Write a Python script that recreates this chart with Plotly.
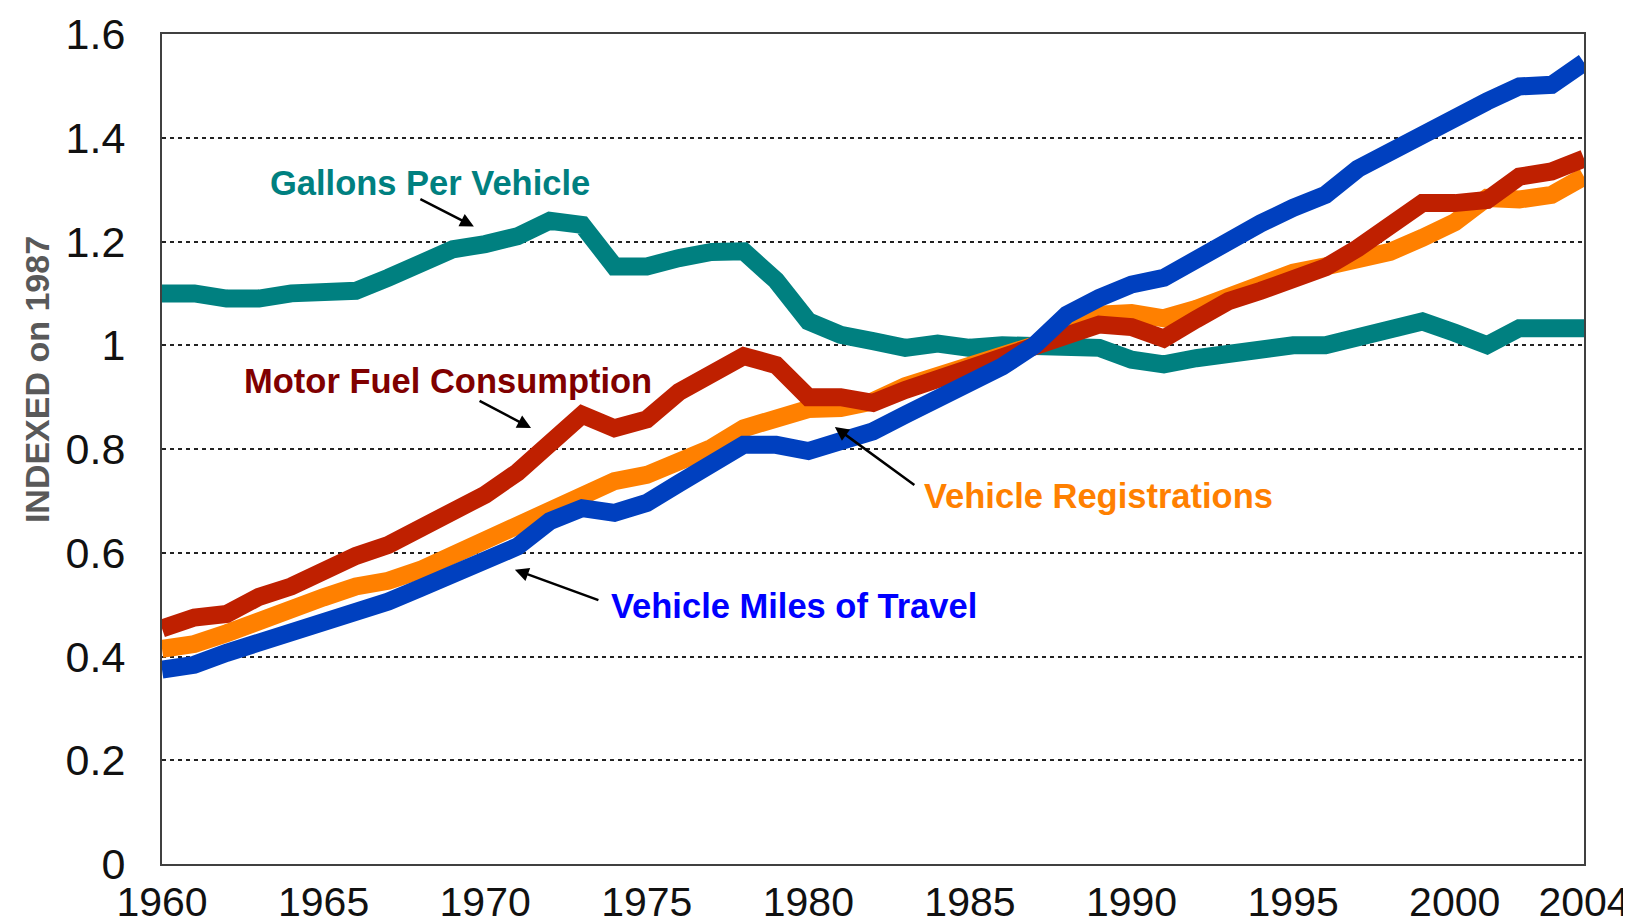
import plotly.graph_objects as go

years = list(range(1960, 2005))

gallons_per_vehicle = [
    1.10, 1.10, 1.09, 1.09, 1.10, 1.10, 1.105, 1.13, 1.155, 1.185,
    1.195, 1.21, 1.24, 1.232, 1.152, 1.152, 1.168, 1.18, 1.181, 1.125,
    1.046, 1.02, 1.008, 0.995, 1.003, 0.995, 1.0, 1.0, 0.995, 0.995,
    0.972, 0.963, 0.975, 0.985, 0.995, 1.0, 1.0, 1.017, 1.027, 1.046,
    1.024, 1.0, 1.033, 1.033, 1.033,
]

motor_fuel = [
    0.454, 0.475, 0.482, 0.515, 0.535, 0.565, 0.594, 0.615, 0.648, 0.683,
    0.712, 0.755, 0.815, 0.866, 0.84, 0.857, 0.91, 0.943, 0.979, 0.962,
    0.90, 0.90, 0.889, 0.914, 0.935, 0.955, 0.982, 1.0, 1.027, 1.04,
    1.035, 1.013, 1.05, 1.085, 1.105, 1.125, 1.15, 1.187, 1.226, 1.274,
    1.274, 1.28, 1.325, 1.335, 1.36,
]

vehicle_registrations = [
    0.415, 0.424, 0.445, 0.465, 0.487, 0.514, 0.535, 0.546, 0.567, 0.596,
    0.62, 0.645, 0.675, 0.712, 0.738, 0.75, 0.776, 0.802, 0.84, 0.86,
    0.877, 0.879, 0.892, 0.921, 0.94, 0.963, 0.985, 1.0, 1.036, 1.059,
    1.062, 1.052, 1.07, 1.095, 1.12, 1.14, 1.152, 1.162, 1.18, 1.207,
    1.237, 1.284, 1.281, 1.29, 1.325,
]

vehicle_miles = [
    0.375, 0.384, 0.407, 0.426, 0.442, 0.465, 0.484, 0.506, 0.532, 0.558,
    0.585, 0.612, 0.661, 0.686, 0.677, 0.696, 0.734, 0.77, 0.808, 0.808,
    0.796, 0.815, 0.834, 0.866, 0.898, 0.921, 0.959, 1.0, 1.059, 1.091,
    1.117, 1.13, 1.168, 1.207, 1.235, 1.265, 1.29, 1.34, 1.374, 1.406,
    1.44, 1.47, 1.499, 1.502, 1.545,
]

x_tick_values = [1960, 1965, 1970, 1975, 1980, 1985, 1990, 1995, 2000, 2004]
x_tick_labels = ["1960", "1965", "1970", "1975", "1980", "1985", "1990", "1995", "2000", "2004"]
y_tick_values = [0, 0.2, 0.4, 0.6, 0.8, 1.0, 1.2, 1.4, 1.6]
y_tick_labels = ["0", "0.2", "0.4", "0.6", "0.8", "1", "1.2", "1.4", "1.6"]

series = [
    ("Gallons Per Vehicle", gallons_per_vehicle, "#008080"),
    ("Vehicle Registrations", vehicle_registrations, "#FF8000"),
    ("Motor Fuel Consumption", motor_fuel, "#BF2000"),
    ("Vehicle Miles of Travel", vehicle_miles, "#0040BF"),
]

fig = go.Figure()
for name, vals, color in series:
    fig.add_trace(go.Scatter(
        x=years, y=vals, mode="lines", name=name,
        line=dict(color=color, width=18),
        hoverinfo="skip",
    ))

label_font = "Arial, Liberation Sans, sans-serif"

# (text, text position (year, value), colour, arrow tip (year, value), arrow tail offset px)
labels = [
    ("Gallons Per Vehicle", 1968.29, 1.313, "#008080", 1969.65, 1.229, -55, -28),
    ("Motor Fuel Consumption", 1968.85, 0.931, "#800000", 1971.42, 0.8405, -53, -28),
    ("Vehicle Registrations", 1988.99, 0.7094, "#FF8000", 1980.82, 0.8424, 81, 59),
    ("Vehicle Miles of Travel", 1979.54, 0.4973, "#0000FF", 1970.92, 0.5673, 85, 31),
]

for text, tx, ty, col, hx, hy, ax, ay in labels:
    fig.add_annotation(
        x=tx, y=ty, xref="x", yref="y", text="<b>" + text + "</b>",
        showarrow=False, font=dict(family=label_font, size=34.5, color=col),
        xanchor="center", yanchor="middle",
    )
    fig.add_annotation(
        x=hx, y=hy, xref="x", yref="y", text="",
        showarrow=True, ax=ax, ay=ay, axref="pixel", ayref="pixel",
        arrowhead=2, arrowsize=1.1, arrowwidth=2.5, arrowcolor="#000000",
    )

# rotated y-axis title
fig.add_annotation(
    x=-0.0879, y=0.583, xref="paper", yref="paper",
    text="<b>INDEXED on 1987</b>", textangle=-90, showarrow=False,
    font=dict(family=label_font, size=34, color="#595959"),
    xanchor="center", yanchor="middle",
)

fig.update_layout(
    width=1631, height=924,
    margin=dict(l=154, r=55, t=26, b=68, autoexpand=False),
    paper_bgcolor="white", plot_bgcolor="white",
    showlegend=False,
    font=dict(family=label_font, color="#1a1a1a"),
)

fig.update_xaxes(
    range=[1960, 2004], automargin=False,
    tickvals=x_tick_values, ticktext=x_tick_labels,
    tickfont=dict(family=label_font, size=41, color="#111111"),
    showgrid=False, zeroline=False,
    showline=True, linecolor="#404040", linewidth=2, mirror=True,
    ticks="", ticklabelstandoff=1,
)
fig.update_yaxes(
    range=[0, 1.6], automargin=False,
    tickvals=y_tick_values, ticktext=y_tick_labels,
    tickfont=dict(family=label_font, size=43, color="#111111"),
    showgrid=True, gridcolor="#222222", gridwidth=1.5, griddash="4px,4px",
    zeroline=False,
    showline=True, linecolor="#404040", linewidth=2, mirror=True,
    ticks="", ticklabelstandoff=26,
)

fig.write_html("out.html")
